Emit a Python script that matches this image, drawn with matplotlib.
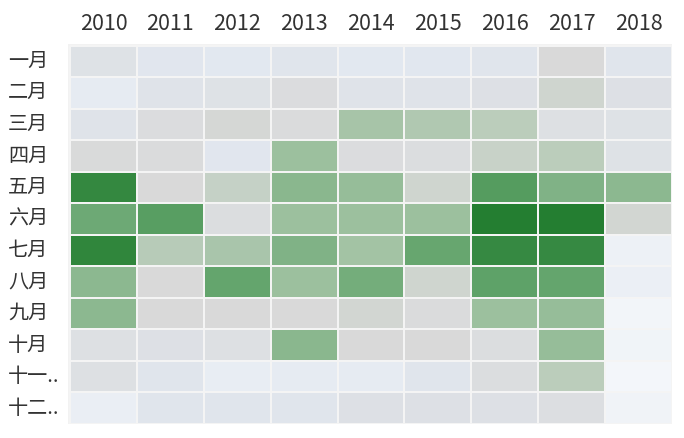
import matplotlib
matplotlib.use("Agg")
import matplotlib.pyplot as plt
import numpy as np
from matplotlib.colors import LinearSegmentedColormap
from matplotlib.transforms import blended_transform_factory

plt.rcParams["font.family"] = ["Noto Sans CJK SC", "DejaVu Sans"]

YEARS = ["2010", "2011", "2012", "2013", "2014", "2015", "2016", "2017", "2018"]
MONTHS = ["一月", "二月", "三月", "四月", "五月", "六月",
          "七月", "八月", "九月", "十月", "十一..", "十二.."]

# relative score per month (rows) and year (columns), 0..100
VALUES = [
    [26, 21, 19, 22, 19, 20, 22, 35, 22],
    [15, 24, 26, 32, 24, 24, 27, 45, 27],
    [24, 32, 39, 33, 57, 54, 51, 28, 26],
    [34, 33, 21, 60, 32, 31, 47, 51, 26],
    [94, 35, 48, 66, 62, 45, 83, 69, 65],
    [75, 82, 31, 60, 60, 60, 99, 99, 42],
    [95, 52, 56, 69, 58, 77, 93, 93, 8],
    [65, 35, 78, 60, 73, 45, 80, 78, 10],
    [65, 35, 35, 35, 42, 33, 60, 62, 2],
    [28, 27, 28, 66, 35, 35, 31, 62, 4],
    [28, 22, 13, 15, 15, 22, 31, 51, 1],
    [11, 22, 22, 22, 27, 27, 27, 30, 5],
]

cmap = LinearSegmentedColormap.from_list("bluegreygreen", [
    (0.00, "#f4f7fa"),
    (0.20, "#e1e7ef"),
    (0.35, "#d9d9d9"),
    (0.45, "#cfd5cf"),
    (0.60, "#9cc09e"),
    (0.80, "#5ea268"),
    (1.00, "#227d2f"),
])

fig = plt.figure(figsize=(6.84, 4.38), dpi=100)
fig.patch.set_facecolor("white")
ax = fig.add_axes([68 / 684, 14 / 438, 604 / 684, 380 / 438])
ax.set_facecolor("#f2f2f2")

data = np.array(VALUES, dtype=float)
ax.pcolormesh(data, cmap=cmap, vmin=0, vmax=100,
              edgecolors="#f4f4f4", linewidth=1.1)
ax.set_xlim(-0.03, len(YEARS))
ax.set_ylim(len(MONTHS), -0.05)
ax.set_xticks([])
ax.set_yticks([])
for s in ax.spines.values():
    s.set_visible(False)

# year labels above columns
tr_x = blended_transform_factory(ax.transData, fig.transFigure)
for i, y in enumerate(YEARS):
    ax.text(i + 0.5, 1 - 24 / 438, y, transform=tr_x, ha="center", va="center",
            fontsize=15.5, color="#333333", clip_on=False)

# month labels left aligned at the figure edge
tr_y = blended_transform_factory(fig.transFigure, ax.transData)
for j, m in enumerate(MONTHS):
    ax.text(8 / 684, j + 0.5, m, transform=tr_y, ha="left", va="center",
            fontsize=14.5, color="#333333", clip_on=False)

fig.savefig("out.png", dpi=100, facecolor="white")
